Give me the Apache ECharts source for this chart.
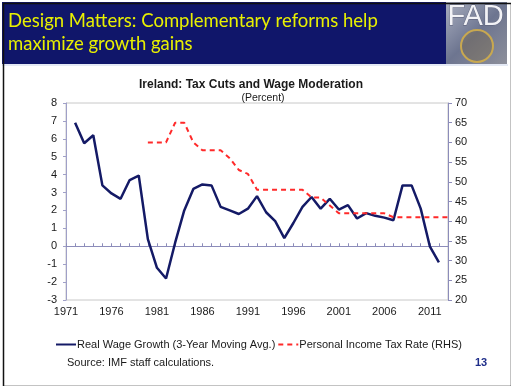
<!DOCTYPE html>
<html><head><meta charset="utf-8">
<script src="https://cdn.jsdelivr.net/npm/echarts@6/dist/echarts.min.js"></script>
<style>html,body{margin:0;padding:0;background:#fff}#c{width:511px;height:386px}</style>
</head><body><div id="c"></div>
<script>
var years = [];
for (var y = 1971; y <= 2013; y++) years.push(String(y));
var wageGrowth = [null,6.9,5.75,6.2,3.4,2.95,2.65,3.7,3.95,0.4,-1.2,-1.8,0.2,2.0,3.2,3.45,3.4,2.2,2.0,1.8,2.1,2.8,1.9,1.4,0.45,1.3,2.2,2.75,2.1,2.65,2.05,2.3,1.55,1.85,1.7,1.6,1.45,3.4,3.4,2.1,0.0,-0.9,null];
var taxRate = [null,null,null,null,null,null,null,null,null,60,60,60,65,65,60,58,58,58,56,53,52,48,48,48,48,48,48,46,46,44,42,42,42,42,42,42,41,41,41,41,41,41,41];
var leftTicks = {min:-3, max:8, interval:1};
var rightTicks = {min:20, max:70, interval:5};

var chart = echarts.init(document.getElementById('c'));
var txt = '#1a1a1a';
chart.setOption({
  animation:false,
  backgroundColor:'#fff',
  title:[
    {text:'Ireland: Tax Cuts and Wage Moderation', left:246, top:74, textAlign:'center',
     textStyle:{fontFamily:'Liberation Sans', fontSize:12, fontWeight:'bold', color:txt}},
    {text:'(Percent)', left:258, top:88, textAlign:'center',
     textStyle:{fontFamily:'Liberation Sans', fontSize:10.5, fontWeight:'normal', color:txt}}
  ],
  grid:{left:66, right:63, top:103, bottom:86, show:true, borderColor:'#c8c8c8', borderWidth:1},
  legend:{left:50, top:334, itemGap:2, itemWidth:20, itemHeight:10,
    itemStyle:{opacity:0},
    textStyle:{fontFamily:'Liberation Sans', fontSize:11, color:txt, padding:[0,0,0,-4]},
    data:['Real Wage Growth (3-Year Moving Avg.)','Personal Income Tax Rate (RHS)']},
  xAxis:[
    {type:'category', data:years, boundaryGap:false, position:'bottom',
     axisLine:{show:false, onZero:false}, axisTick:{show:false}, splitLine:{show:false},
     axisLabel:{interval:4, margin:6, fontFamily:'Liberation Sans', fontSize:11, color:txt}},
    {type:'category', data:years, boundaryGap:false, position:'bottom',
     axisLine:{show:true, onZero:true, onZeroAxisIndex:0, lineStyle:{color:'#8c8cba', width:1}},
     axisTick:{show:true, inside:true, length:3, interval:0, lineStyle:{color:'#8c8cba'}},
     axisLabel:{show:false}, splitLine:{show:false}}
  ],
  yAxis:[
    {type:'value', min:leftTicks.min, max:leftTicks.max, interval:leftTicks.interval, position:'left',
     axisLine:{show:true, lineStyle:{color:'#a0a0c8'}}, axisTick:{show:true, length:3, lineStyle:{color:'#a0a0c8'}},
     splitLine:{show:false},
     axisLabel:{margin:9, fontFamily:'Liberation Sans', fontSize:11, color:txt}},
    {type:'value', min:rightTicks.min, max:rightTicks.max, interval:rightTicks.interval, position:'right',
     axisLine:{show:true, lineStyle:{color:'#8c8cba'}}, axisTick:{show:true, length:4, lineStyle:{color:'#8c8cba'}},
     splitLine:{show:false},
     axisLabel:{margin:7, fontFamily:'Liberation Sans', fontSize:11, color:txt}}
  ],
  series:[
    {name:'Real Wage Growth (3-Year Moving Avg.)', type:'line', xAxisIndex:0, yAxisIndex:0, data:wageGrowth,
     showSymbol:false, symbol:'none', connectNulls:false, lineStyle:{color:'#141a66', width:2.5}, itemStyle:{color:'#141a66'}},
    {name:'Personal Income Tax Rate (RHS)', type:'line', xAxisIndex:0, yAxisIndex:1, data:taxRate,
     showSymbol:false, symbol:'none', lineStyle:{color:'#ff2a2a', width:2, type:[5,4]}, itemStyle:{color:'#ff2a2a'}}
  ],
  graphic:[
    {type:'rect', left:2, top:2, shape:{width:445, height:62}, style:{fill:'#10166a'}, z:0},
    {type:'rect', left:446, top:2, shape:{width:61, height:62},
     style:{fill:new echarts.graphic.LinearGradient(0,0,1,1,[{offset:0,color:'#a9aebf'},{offset:0.5,color:'#6d7590'},{offset:1,color:'#8d8f9a'}])}, z:0},
    {type:'circle', shape:{cx:477, cy:46, r:16}, style:{fill:'rgba(120,100,60,0.35)', stroke:'#c8a850', lineWidth:2}, z:1},
    {type:'text', left:447, top:2, style:{text:'FAD', fontFamily:'Liberation Sans', fontSize:29, fill:'#f2f2f6', stroke:'#5a5f78', lineWidth:0.8}, z:2},
    {type:'text', left:8, top:12, style:{text:'Design Matters: Complementary reforms help', fontFamily:'Lato', fontSize:18.5, fill:'#e8f000'}, z:2},
    {type:'text', left:8, top:35, style:{text:'maximize growth gains', fontFamily:'Lato', fontSize:18.5, fill:'#e8f000'}, z:2},
    {type:'line', shape:{x1:2, y1:65, x2:508, y2:65}, style:{stroke:'#c9d3ea', lineWidth:1}, z:2},
    {type:'rect', left:1, top:1, shape:{width:508, height:383}, style:{fill:'none', stroke:'#111', lineWidth:1.5}, z:5},
    {type:'text', left:67, top:357, style:{text:'Source: IMF staff calculations.', fontFamily:'Liberation Sans', fontSize:11, fill:txt}, z:2},
    {type:'text', left:475, top:357, style:{text:'13', fontFamily:'Liberation Sans', fontSize:11, fontWeight:'bold', fill:'#1f2e8a'}, z:2}
  ]
});
</script></body></html>
